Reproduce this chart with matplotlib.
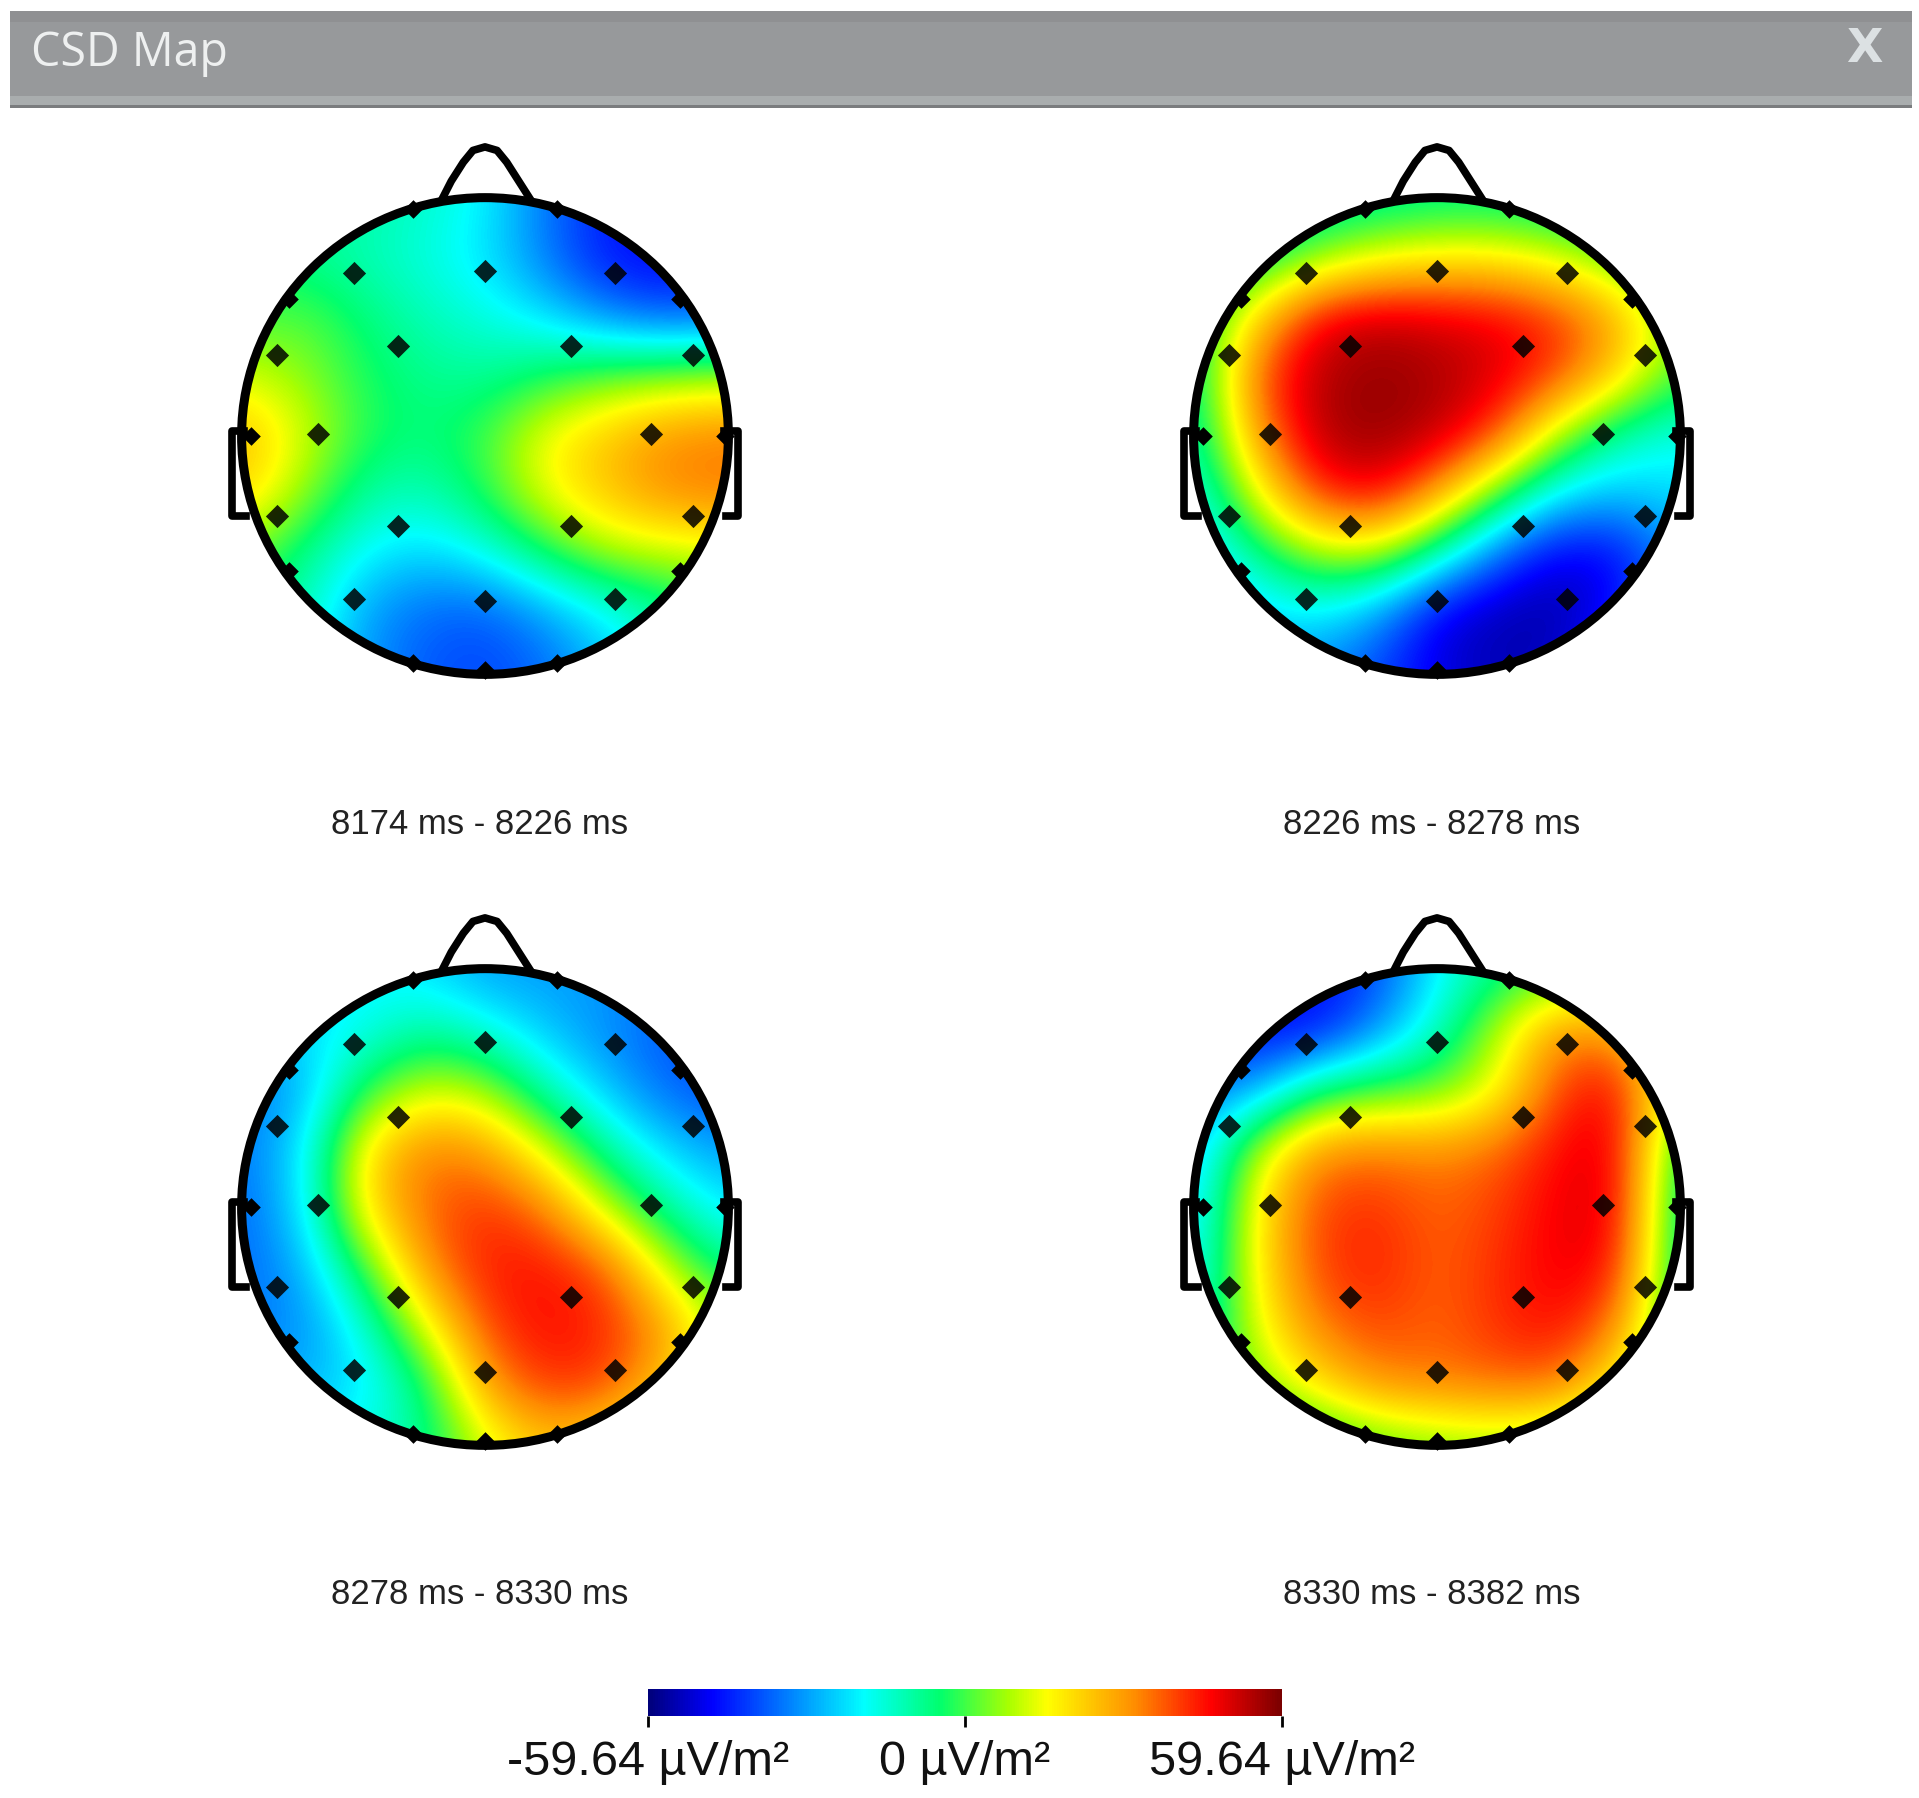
import numpy as np
import matplotlib
matplotlib.use("Agg")
import matplotlib.pyplot as plt
from matplotlib.colors import LinearSegmentedColormap
from matplotlib.patches import Circle, Rectangle

W, H = 1919, 1798

# field values in uV/m2, on a 9x9 grid, top row first, left to right
map_a = [[-8, -8, -10, -14, -20, -34, -44, -47, -45],
         [-6, -8, -12, -16, -22, -34, -46, -48, -46],
         [0, 2, -6, -12, -16, -22, -32, -38, -36],
         [12, 6, -3, -8, -9, -3, 3, 6, 8],
         [26, 12, -2, -6, 0, 16, 24, 32, 34],
         [22, 6, -10, -13, -2, 15, 24, 32, 34],
         [5, -8, -20, -24, -18, -4, 8, 10, 12],
         [-6, -12, -30, -36, -38, -30, -20, -10, -2],
         [-10, -16, -30, -38, -40, -36, -26, -15, -8]]
map_b = [[-14, -14, -12, -10, -8, -8, -10, -12, -14],
         [-12, -8, 5, 14, 18, 18, 12, 2, -10],
         [-8, 22, 48, 53, 50, 48, 42, 28, 4],
         [-10, 38, 54, 57, 55, 50, 40, 22, 0],
         [-12, 30, 54, 57, 53, 40, 8, -12, -18],
         [-18, 14, 42, 48, 30, 0, -22, -26, -22],
         [-26, -8, 8, 10, -12, -36, -50, -48, -30],
         [-32, -24, -20, -30, -50, -55, -56, -46, -28],
         [-36, -30, -32, -40, -50, -54, -52, -38, -25]]
map_c = [[-22, -22, -20, -22, -30, -30, -30, -32, -32],
         [-28, -22, -18, -10, -16, -26, -32, -38, -40],
         [-34, -28, -2, 12, 8, -12, -26, -36, -40],
         [-34, -22, 20, 34, 30, 12, -10, -24, -30],
         [-36, -22, 20, 36, 42, 34, 10, -10, -22],
         [-36, -28, 0, 32, 44, 45, 38, 10, -8],
         [-34, -32, -16, 14, 40, 46, 43, 30, 6],
         [-28, -28, -22, -6, 30, 42, 40, 24, 6],
         [-18, -18, -16, -8, 12, 24, 18, 6, 0]]
map_d = [[-38, -44, -46, -40, -20, -8, 0, 0, -5],
         [-44, -48, -48, -32, -14, 10, 32, 30, 5],
         [-34, -30, -6, 0, 2, 14, 40, 48, 6],
         [-28, 10, 32, 34, 32, 36, 46, 50, -8],
         [-24, 18, 40, 42, 36, 40, 48, 50, -12],
         [-22, 18, 40, 44, 36, 42, 48, 46, -12],
         [-18, 14, 34, 40, 36, 42, 46, 34, -10],
         [-10, 5, 20, 32, 34, 36, 36, 16, -6],
         [-10, -10, -8, 0, 4, 6, 2, -6, -8]]
maps = [map_a, map_b, map_c, map_d]

labels = ["8174 ms - 8226 ms", "8226 ms - 8278 ms", "8278 ms - 8330 ms", "8330 ms - 8382 ms"]
centres = [(485, 436), (1437, 436), (485, 1207), (1437, 1207)]

# electrode positions, in head radii
inner_x = [-.545, 0, .54, -.36, .355, -.865, .865, -.695, .69, -.865, .865, -.36, .355, -.545, 0, .54]
inner_y = [.69, .70, .69, .38, .38, .345, .345, .01, .01, -.34, -.34, -.38, -.38, -.69, -.70, -.69]
rim_x = [-.3, .3, -.815, .81, -.97, .995, -.815, .81, -.3, 0, .3]
rim_y = [.96, .96, .58, .58, 0, 0, -.57, -.57, -.96, -.99, -.96]

# colour stops of the scale
stops = [0, .1, .34, .46, .57, .63, .77, .89, 1]
stop_colours = ["#00007a", "#0000ff", "#00ffff", "#00ff6e", "#aaff00", "#ffff00", "#ff8c00", "#ff0000", "#7a0000"]

limit = 59.64
R_x = 241
R_y = 236
span = 1.3

csd_cmap = LinearSegmentedColormap.from_list("csd", list(zip(stops, stop_colours)))


def add_px_axes(left, top, width, height):
    return fig.add_axes([left / W, 1 - (top + height) / H, width / W, height / H])


def draw_head(cx, cy, values):
    ax = add_px_axes(cx - R_x * span, cy - R_y * span, 2 * R_x * span, 2 * R_y * span)
    ax.axis("off")
    ax.patch.set_alpha(0)
    im = ax.imshow(values, cmap=csd_cmap, vmin=-limit, vmax=limit, interpolation="bicubic",
                   extent=[-1.125, 1.125, -1.125, 1.125], aspect="auto", zorder=1)
    ax.set_xlim(-span, span)
    ax.set_ylim(-span, span)
    outline = Circle((0, 0), 1, transform=ax.transData)
    im.set_clip_path(outline)
    ax.add_patch(Circle((0, 0), 1.01, fill=False, ec="black", lw=6.5, zorder=3))
    # nose and ears
    ax.plot([-.18, -.14, -.09, -.05, 0, .05, .09, .14, .19],
            [1.0, 1.08, 1.16, 1.21, 1.225, 1.21, 1.16, 1.08, 1.0],
            color="black", lw=5.5, zorder=3, solid_capstyle="round")
    ax.plot([-1.0, -1.05, -1.05, -.99], [.02, .02, -.34, -.34], color="black", lw=5.5, zorder=3)
    ax.plot([1.0, 1.05, 1.05, .99], [-.34, -.34, .02, .02], color="black", lw=5.5, zorder=3)
    ax.scatter(inner_x, inner_y, marker="D", s=140, color="black", alpha=.85, lw=0, zorder=4)
    ax.scatter(rim_x, rim_y, marker="D", s=90, color="black", lw=0, zorder=4)
    return im


fig = plt.figure(figsize=(W / 100, H / 100), dpi=100, facecolor="white")
plt.rcParams["font.family"] = ["Liberation Sans", "DejaVu Sans"]

bg = fig.add_axes([0, 0, 1, 1])
bg.set_xlim(0, W)
bg.set_ylim(H, 0)
bg.axis("off")

# title bar
bg.add_patch(Rectangle((10, 11), 1902, 96, color="#97999b", lw=0))
bg.add_patch(Rectangle((10, 11), 1902, 11, color="#8f9092", lw=0))
bg.add_patch(Rectangle((10, 96), 1902, 9, color="#a9adae", lw=0))
bg.add_patch(Rectangle((10, 105), 1902, 3, color="#7a7c7e", lw=0))
bg.text(31, 53, "CSD Map", color="#eef0f0", fontsize=33.5, family="Open Sans", va="center", ha="left")
bg.text(1864, 50, "X", color="#dce1e3", fontsize=34, family="DejaVu Sans", weight="bold", va="center", ha="center")

for values, (cx, cy), label in zip(maps, centres, labels):
    im = draw_head(cx, cy, values)
    bg.text(cx - 5, cy + 388, label, fontsize=25, ha="center", va="center", color="#222222")

# colour bar
cax = add_px_axes(648, 1689, 634, 27)
cbar = fig.colorbar(im, cax=cax, orientation="horizontal", ticks=[-limit, 0, limit])
cbar.outline.set_visible(False)
cbar.ax.set_xticklabels(["-59.64 µV/m²", "0 µV/m²", "59.64 µV/m²"], fontsize=35, color="#111111")
cbar.ax.tick_params(length=8, width=2, pad=9, color="black")

fig.savefig("out.png", dpi=100)
